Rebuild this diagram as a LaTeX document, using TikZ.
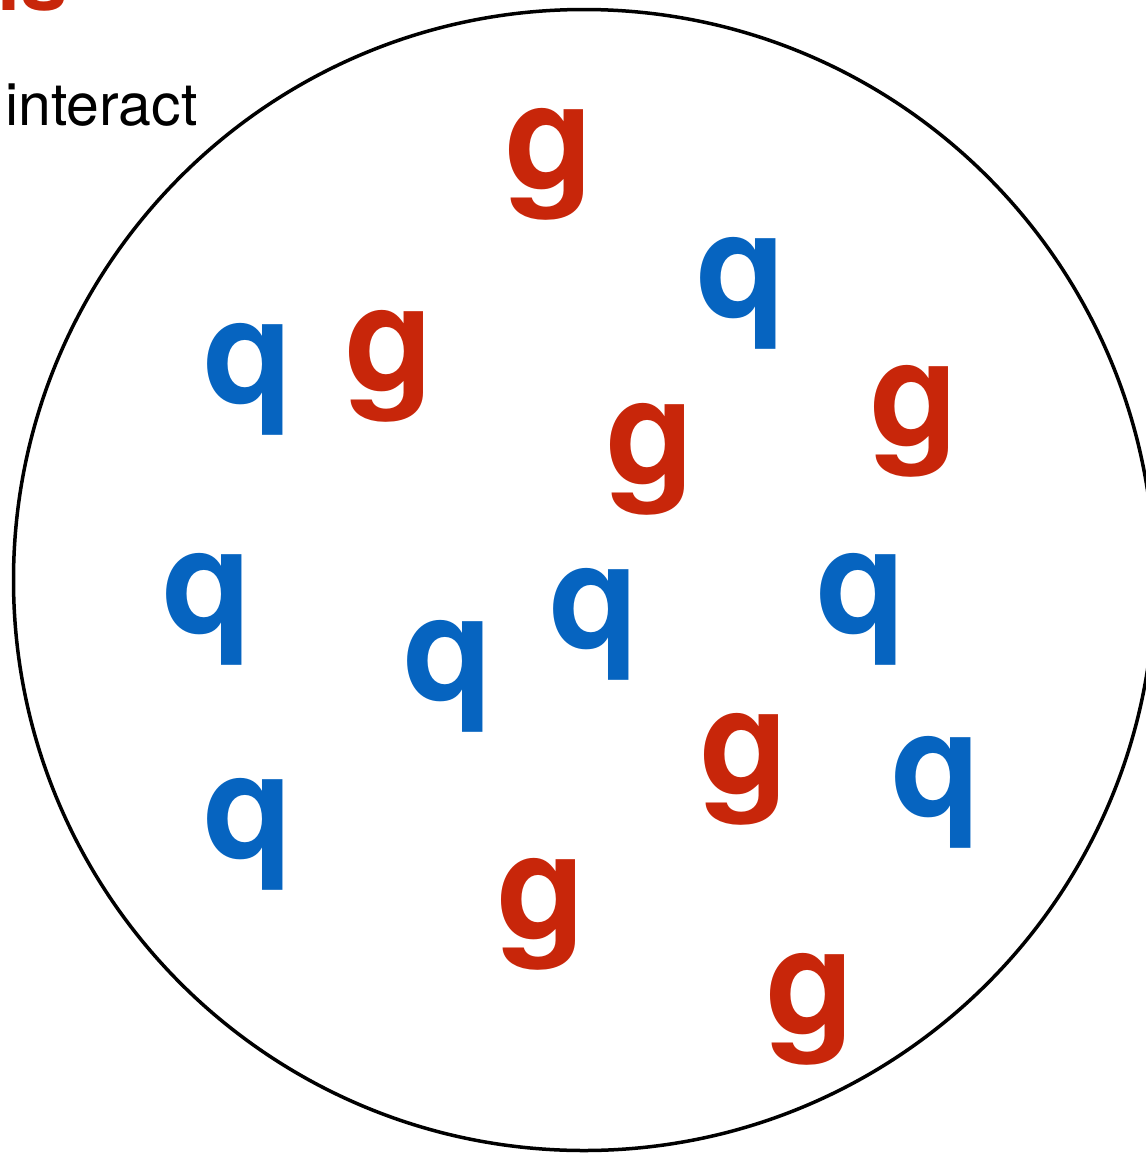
\documentclass[tikz,border=0pt]{standalone}
\usepackage{fontspec}
\setmainfont{TeX Gyre Heros}
\definecolor{gred}{RGB}{200,38,10}
\definecolor{qblue}{RGB}{6,100,192}
\tikzset{
  big/.style={inner sep=0pt, anchor=base, font=\bfseries\fontsize{146}{146}\selectfont},
  gl/.style={big, text=gred},
  qk/.style={big, text=qblue},
}
\begin{document}
\begin{tikzpicture}[x=1pt,y=-1pt]
\useasboundingbox (0,0) rectangle (1146,1157);
\clip (0,0) rectangle (1146,1157);
\node[inner sep=0pt, anchor=base west, text=gred, font=\bfseries\fontsize{85}{85}\selectfont] (title) at (-32,10) {ns};
\node[inner sep=0pt, anchor=base west, font=\fontsize{59}{59}\selectfont] (interact) at (5,125) {interact};
\node[draw, line width=3.5pt, circle, minimum size=1141pt, inner sep=0pt] (cell) at (584,580) {};
\node[gl] (g1) at (549,188) {g};
\node[qk] (q1) at (741,317) {q};
\node[qk] (q2) at (248,403) {q};
\node[gl] (g2) at (389,390) {g};
\node[gl] (g3) at (650,483) {g};
\node[gl] (g4) at (914,445) {g};
\node[qk] (q3) at (207,633) {q};
\node[qk] (q4) at (448,700) {q};
\node[qk] (q5) at (594,648) {q};
\node[qk] (q6) at (861,633) {q};
\node[gl] (g5) at (744,793) {g};
\node[qk] (q7) at (936,816) {q};
\node[qk] (q8) at (248,858) {q};
\node[gl] (g6) at (541,938) {g};
\node[gl] (g7) at (810,1033) {g};
\end{tikzpicture}
\end{document}
